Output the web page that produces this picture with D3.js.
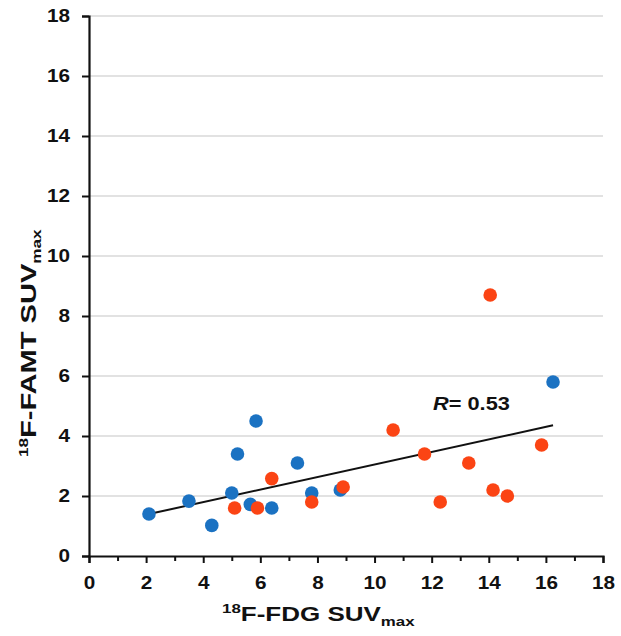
<!DOCTYPE html>
<html>
<head>
<meta charset="utf-8">
<script src="https://cdn.jsdelivr.net/npm/d3@7"></script>
<style>
    body { margin: 0; background: #fff; }
    text { font-family: "Liberation Sans", Arial, sans-serif; font-weight: bold; fill: #111; }
</style>
</head>
<body>
<svg id="chart" width="621" height="636"></svg>
<script>
(function () {

    // blue group
    var blueX = [2.1, 3.5, 4.3, 5.0, 5.2, 5.85, 5.65, 6.4, 7.3, 7.8, 8.8, 16.25];
    var blueY = [1.4, 1.83, 1.02, 2.1, 3.4, 4.5, 1.72, 1.6, 3.1, 2.1, 2.2, 5.8];
    // red group
    var redX = [5.1, 5.9, 6.4, 7.8, 8.9, 10.65, 11.75, 12.3, 13.3, 14.05, 14.15, 14.65, 15.85];
    var redY = [1.6, 1.6, 2.58, 1.8, 2.3, 4.2, 3.4, 1.8, 3.1, 8.7, 2.2, 2.0, 3.7];

    var xTicks = [0, 2, 4, 6, 8, 10, 12, 14, 16, 18];
    var xMinorTicks = [1, 3, 5, 7, 9, 11, 13, 15, 17];
    var yTicks = [0, 2, 4, 6, 8, 10, 12, 14, 16, 18];

    // linear fit shown on the chart
    var fitSlope = 0.209;
    var fitIntercept = 0.96;
    var rLabel = '0.53';

    var svg = d3.select('#chart');
    var x = d3.scaleLinear().domain([0, 18]).range([89, 603]);
    var y = d3.scaleLinear().domain([0, 18]).range([556, 16]);
    var stretch = 1.15; // the source text is drawn wide

    // gridlines
    svg.append('g')
        .selectAll('line')
        .data(yTicks.filter(function (d) { return d > 0; }))
        .enter().append('line')
            .attr('x1', x(0)).attr('x2', x(18))
            .attr('y1', y).attr('y2', y)
            .attr('stroke', '#d9d9d9')
            .attr('stroke-width', 1.5);

    var yAxis = svg.append('g')
        .attr('transform', 'translate(' + x(0) + ',0)')
        .call(d3.axisLeft(y).tickValues(yTicks).tickSize(7).tickPadding(12));

    var xAxis = svg.append('g')
        .attr('transform', 'translate(0,' + y(0) + ')')
        .call(d3.axisBottom(x).tickValues(xTicks).tickSize(7).tickPadding(13));

    svg.append('g')
        .attr('transform', 'translate(0,' + y(0) + ')')
        .call(d3.axisBottom(x).tickValues(xMinorTicks).tickSize(5).tickFormat(''))
        .select('.domain').remove();

    svg.selectAll('.domain').attr('stroke', '#111').attr('stroke-width', 2.2);
    svg.selectAll('.tick line').attr('stroke', '#111').attr('stroke-width', 2);
    svg.selectAll('.tick text')
        .attr('font-size', 18)
        .attr('font-family', '"Liberation Sans", Arial, sans-serif')
        .attr('font-weight', 'bold')
        .attr('fill', '#111');

    // keep the right edge in place while widening
    yAxis.selectAll('.tick text').attr('transform', function () {
        var tx = +d3.select(this).attr('x');
        return 'translate(' + (tx - stretch * tx) + ',0) scale(' + stretch + ',1)';
    });
    xAxis.selectAll('.tick text').attr('transform', 'scale(' + stretch + ',1)');

    // regression line
    var fitRange = d3.extent(blueX.concat(redX));
    svg.append('line')
        .attr('x1', x(fitRange[0])).attr('y1', y(fitIntercept + fitSlope * fitRange[0]))
        .attr('x2', x(fitRange[1])).attr('y2', y(fitIntercept + fitSlope * fitRange[1]))
        .attr('stroke', '#111')
        .attr('stroke-width', 2);

    function drawPoints(xs, ys, color) {
        svg.append('g')
            .selectAll('circle')
            .data(xs.map(function (d, i) { return [d, ys[i]]; }))
            .enter().append('circle')
                .attr('cx', function (d) { return x(d[0]); })
                .attr('cy', function (d) { return y(d[1]); })
                .attr('r', 6.8)
                .attr('fill', color);
    }
    drawPoints(blueX, blueY, '#1b72c2');
    drawPoints(redX, redY, '#fb4414');

    // R label
    var rText = svg.append('text')
        .attr('transform', 'translate(433,410) scale(1.21,1)')
        .attr('font-size', 18);
    rText.append('tspan').attr('font-style', 'italic').text('R');
    rText.append('tspan').text('= ' + rLabel);

    // axis titles
    function title(g, main, sup, sub, size) {
        var t = g.append('text').attr('font-size', size);
        t.append('tspan').attr('font-size', 13).attr('dy', -8).text(sup);
        t.append('tspan').attr('dy', 8).text(main);
        t.append('tspan').attr('font-size', 13).attr('dy', 5).text(sub);
        return t;
    }

    title(svg.append('g').attr('transform', 'translate(222,621) scale(1.3,1)'),
        'F-FDG SUV', '18', 'max', 20);

    title(svg.append('g').attr('transform', 'translate(36,457) rotate(-90) scale(1.32,1)'),
        'F-FAMT SUV', '18', 'max', 22);

})();
</script>
</body>
</html>
